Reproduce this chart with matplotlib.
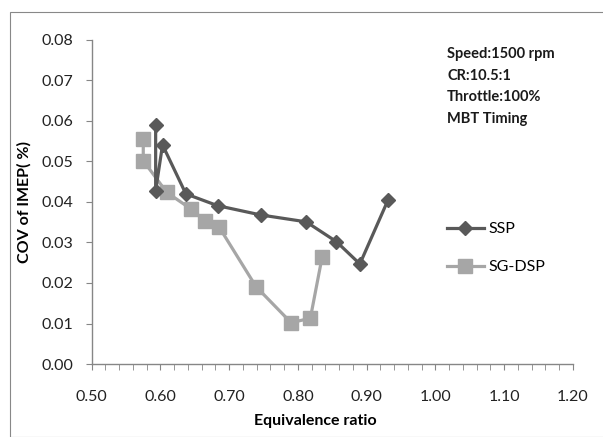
import numpy as np
import matplotlib.pyplot as plt
from matplotlib.patches import Rectangle

# data
ssp_phi = [0.593, 0.593, 0.603, 0.637, 0.683, 0.746, 0.812, 0.856, 0.890, 0.931]
ssp_cov = [0.0590, 0.0428, 0.0541, 0.0420, 0.0391, 0.0368, 0.0351, 0.0302, 0.0247, 0.0405]

dsp_phi = [0.575, 0.575, 0.609, 0.645, 0.665, 0.685, 0.739, 0.790, 0.818, 0.835]
dsp_cov = [0.0555, 0.0502, 0.0424, 0.0382, 0.0353, 0.0339, 0.0191, 0.0102, 0.0113, 0.0263]

notes = ["Speed:1500 rpm", "CR:10.5:1", "Throttle:100%", "MBT Timing"]

plt.rcParams['font.family'] = ['Lato', 'DejaVu Sans']

W, H = 603, 437
fig = plt.figure(figsize=(W/100, H/100), dpi=100)
ax = fig.add_axes([91.7/W, 1-364/H, (573-91.7)/W, (364-40)/H])

# outer frame of the chart area
fig.patches.append(Rectangle((10/W, 0), 1.2, 1-12/H, transform=fig.transFigure,
                             fill=False, edgecolor='#888888', lw=0.8))

ax.plot(ssp_phi, ssp_cov, color='#595959', lw=2.3, marker='D', ms=7.5,
        label='SSP', zorder=3)
ax.plot(dsp_phi, dsp_cov, color='#a6a6a6', lw=2.3, marker='s', ms=9.5,
        label='SG-DSP', zorder=2)

ax.set_xlim(0.5, 1.2)
ax.set_ylim(0, 0.08)
ax.set_xticks(np.arange(0.5, 1.21, 0.1))
ax.set_xticks(np.arange(0.5, 1.21, 0.02), minor=True)
ax.set_yticks(np.arange(0, 0.081, 0.01))
ax.xaxis.set_major_formatter(plt.FormatStrFormatter('%.2f'))
ax.yaxis.set_major_formatter(plt.FormatStrFormatter('%.2f'))

for s in ['top', 'right']:
    ax.spines[s].set_visible(False)
for s in ['left', 'bottom']:
    ax.spines[s].set_color('#868686')
    ax.spines[s].set_linewidth(1.0)
ax.tick_params(which='both', direction='out', length=4, color='#868686',
               labelsize=11.5, labelcolor='#222222')
ax.tick_params(axis='y', pad=9)
ax.tick_params(axis='x', pad=15)

ax.set_xlabel('Equivalence ratio', fontsize=11.5, fontweight='bold')
ax.set_ylabel('COV of IMEP( %)', fontsize=11.5, fontweight='bold')
ax.xaxis.set_label_coords((315-91.7)/(573-91.7), -(414-364)/(364-40))
ax.yaxis.set_label_coords(-(91.7-32)/(573-91.7), 0.5)

for i, t in enumerate(notes):
    fig.text(447/W, 1-(54+21.5*i)/H, t, fontsize=10.5, fontweight='bold',
             va='center', ha='left', color='#1a1a1a')

ax.legend(loc='upper left', bbox_to_anchor=(447/W, 1-222/H),
          bbox_transform=fig.transFigure, frameon=False, fontsize=11.5,
          handlelength=2.3, handletextpad=0.3, labelspacing=1.5,
          borderpad=0, borderaxespad=0)

fig.savefig('out.png', dpi=100)
